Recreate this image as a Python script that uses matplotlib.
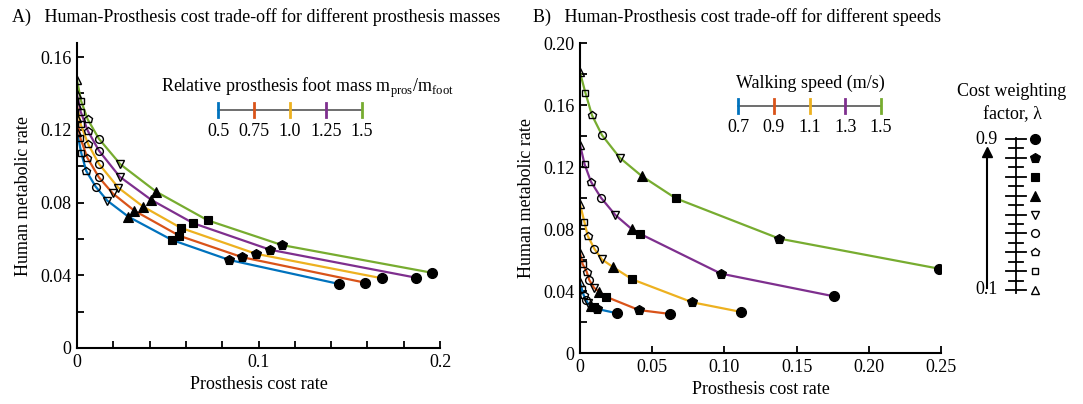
import matplotlib.pyplot as plt
import matplotlib.lines as mlines
import numpy as np
from matplotlib.ticker import MultipleLocator

plt.rcParams['font.family'] = 'Liberation Serif'
plt.rcParams['mathtext.fontset'] = 'custom'
plt.rcParams['mathtext.rm'] = 'Liberation Serif'

# Cost weighting factor lambda, one marker per value
lambdas = [0.1, 0.2, 0.3, 0.4, 0.5, 0.6, 0.7, 0.8, 0.9]
markers = ['^', 's', 'p', 'o', 'v', '^', 's', 'p', 'o']
filled = [False, False, False, False, False, True, True, True, True]

colors = ['#0072BD', '#D95319', '#EDB120', '#7E2F8E', '#77AC30']

# Panel A: prosthesis masses
masses = ['0.5', '0.75', '1.0', '1.25', '1.5']
a_x = [
    [0, 0.0024, 0.0051, 0.0103, 0.0167, 0.0283, 0.0523, 0.0839, 0.1444],
    [0, 0.0018, 0.0057, 0.0121, 0.0197, 0.0316, 0.0564, 0.0911, 0.1588],
    [0, 0.0020, 0.0062, 0.0121, 0.0228, 0.0365, 0.0571, 0.0986, 0.1682],
    [0, 0.0020, 0.0059, 0.0121, 0.0235, 0.0410, 0.0641, 0.1065, 0.1866],
    [0, 0.0022, 0.0059, 0.0121, 0.0239, 0.0437, 0.0720, 0.1129, 0.1954],
]
a_y = [
    [0.1190, 0.1070, 0.0973, 0.0887, 0.0810, 0.0722, 0.0594, 0.0484, 0.0352],
    [0.1263, 0.1156, 0.1046, 0.0938, 0.0850, 0.0755, 0.0617, 0.0499, 0.0359],
    [0.1336, 0.1230, 0.1120, 0.1012, 0.0881, 0.0777, 0.0661, 0.0518, 0.0383],
    [0.1395, 0.1300, 0.1195, 0.1085, 0.0942, 0.0814, 0.0686, 0.0540, 0.0387],
    [0.1473, 0.1360, 0.1257, 0.1150, 0.1010, 0.0859, 0.0702, 0.0566, 0.0414],
]

# Panel B: walking speeds
speeds = ['0.7', '0.9', '1.1', '1.3', '1.5']
b_x = [
    [0, 0.0012, 0.0025, 0.0040, 0.0055, 0.0075, 0.0095, 0.0115, 0.0258],
    [0, 0.0018, 0.0046, 0.0064, 0.0097, 0.0133, 0.0180, 0.0409, 0.0623],
    [0, 0.0030, 0.0053, 0.0099, 0.0152, 0.0231, 0.0362, 0.0778, 0.1115],
    [0, 0.0032, 0.0076, 0.0145, 0.0245, 0.0360, 0.0418, 0.0976, 0.1757],
    [0, 0.0037, 0.0083, 0.0152, 0.0275, 0.0427, 0.0663, 0.1380, 0.2486],
]
b_y = [
    [0.0456, 0.0415, 0.0375, 0.0345, 0.0320, 0.0305, 0.0295, 0.0285, 0.0256],
    [0.0647, 0.0574, 0.0525, 0.0471, 0.0421, 0.0395, 0.0363, 0.0277, 0.0252],
    [0.0961, 0.0847, 0.0757, 0.0673, 0.0604, 0.0553, 0.0475, 0.0327, 0.0265],
    [0.1344, 0.1217, 0.1105, 0.1002, 0.0890, 0.0798, 0.0768, 0.0512, 0.0366],
    [0.1810, 0.1680, 0.1534, 0.1406, 0.1260, 0.1142, 0.0998, 0.0738, 0.0544],
]

# marker sizes (pt) so that shapes look alike in size
open_ms = {'^': 5.5, 's': 4.5, 'p': 6.2, 'o': 5.6, 'v': 5.5}
fill_ms = {'^': 7.0, 's': 5.6, 'p': 7.6, 'o': 7.2}

W, H = 1083, 404
fig = plt.figure(figsize=(W / 100, H / 100), dpi=100)


def fx(px):
    return px / W


def fy(py):
    return 1 - py / H


def mstyle(i):
    m = markers[i]
    if filled[i]:
        return dict(marker=m, ms=fill_ms[m], mec='k', mew=0.8, mfc='k')
    return dict(marker=m, ms=open_ms[m], mec='k', mew=1.0, mfc='none')


def draw_curves(ax, xs, ys):
    for c, x, y in zip(colors, xs, ys):
        ax.plot(x, y, color=c, lw=1.6, zorder=2)
        for i in range(len(x)):
            ax.plot(x[i], y[i], zorder=3, **mstyle(i))


def style_axes(ax):
    for s in ['top', 'right']:
        ax.spines[s].set_visible(False)
    for s in ['left', 'bottom']:
        ax.spines[s].set_linewidth(1.5)
    ax.tick_params(which='both', direction='in', width=1.3, labelsize=13, pad=4)
    ax.tick_params(which='major', length=5)
    ax.tick_params(which='minor', length=5)
    ax.set_xlabel('Prosthesis cost rate', fontsize=13, labelpad=4)
    ax.set_ylabel('Human metabolic rate', fontsize=13, labelpad=6)


# ---- Panel A
axA = fig.add_axes([fx(77), fy(348), fx(440) - fx(77), fy(43) - fy(348)])
draw_curves(axA, a_x, a_y)
axA.set_xlim(0, 0.2)
axA.set_ylim(0, 0.1677)
axA.set_xticks([0, 0.1, 0.2])
axA.set_xticklabels(['0', '0.1', '0.2'])
axA.xaxis.set_minor_locator(MultipleLocator(0.02))
axA.set_yticks([0, 0.04, 0.08, 0.12, 0.16])
axA.set_yticklabels(['0', '0.04', '0.08', '0.12', '0.16'])
axA.yaxis.set_minor_locator(MultipleLocator(0.02))
style_axes(axA)

# ---- Panel B
axB = fig.add_axes([fx(580), fy(353), fx(941) - fx(580), fy(43) - fy(353)])
draw_curves(axB, b_x, b_y)
axB.set_xlim(0, 0.25)
axB.set_ylim(0, 0.2)
axB.set_xticks([0, 0.05, 0.10, 0.15, 0.20, 0.25])
axB.set_xticklabels(['0', '0.05', '0.10', '0.15', '0.20', '0.25'])
axB.set_yticks([0, 0.04, 0.08, 0.12, 0.16, 0.20])
axB.set_yticklabels(['0', '0.04', '0.08', '0.12', '0.16', '0.20'])
axB.yaxis.set_minor_locator(MultipleLocator(0.02))
style_axes(axB)

# ---- Titles
fig.text(fx(12), fy(17), 'A)   Human-Prosthesis cost trade-off for different prosthesis masses',
         fontsize=13, va='center', ha='left')
fig.text(fx(533), fy(17), 'B)   Human-Prosthesis cost trade-off for different speeds',
         fontsize=13, va='center', ha='left')


# ---- Colour scale legends
def colour_scale(x0, x1, yline, title, title_x, title_y, labels):
    fig.add_artist(mlines.Line2D([fx(x0), fx(x1)], [fy(yline), fy(yline)],
                                 color='#555555', lw=1.2))
    xs = np.linspace(x0, x1, len(labels))
    for px, c, lab in zip(xs, colors, labels):
        fig.add_artist(mlines.Line2D([fx(px), fx(px)], [fy(yline - 7), fy(yline + 7)],
                                     color=c, lw=2))
        fig.text(fx(px), fy(yline + 21), lab, fontsize=13, ha='center', va='center')
    fig.text(fx(title_x), fy(title_y), title, fontsize=13, ha='center', va='center')


colour_scale(218, 362, 110,
             r'Relative prosthesis foot mass m$_{\mathrm{pros}}$/m$_{\mathrm{foot}}$', 307, 88, masses)
colour_scale(738, 881, 106, 'Walking speed (m/s)', 810, 83, speeds)

# ---- Cost weighting factor legend
fig.text(fx(1012), fy(92), 'Cost weighting', fontsize=13, ha='center', va='center')
fig.text(fx(1012), fy(115), 'factor, λ', fontsize=13, ha='center', va='center')
lam_top, lam_bot = 139, 290
bar_x = 1016


def lam_y(v):
    return lam_bot - (v - lambdas[0]) / (lambdas[-1] - lambdas[0]) * (lam_bot - lam_top)


fig.add_artist(mlines.Line2D([fx(bar_x), fx(bar_x)], [fy(lam_bot + 3), fy(lam_top - 1)],
                             color='k', lw=1.3))
for i, v in enumerate(lambdas):
    yy = lam_y(v)
    fig.add_artist(mlines.Line2D([fx(bar_x - 10), fx(bar_x + 10)], [fy(yy), fy(yy)],
                                 color='k', lw=1.3))
    if i < len(lambdas) - 1:
        ym = lam_y(v + 0.05)
        fig.add_artist(mlines.Line2D([fx(bar_x - 7), fx(bar_x + 7)], [fy(ym), fy(ym)],
                                     color='k', lw=1.3))
    fig.add_artist(mlines.Line2D([fx(1035)], [fy(yy)], ls='none', **mstyle(i)))
fig.text(fx(998), fy(lam_top), '0.9', fontsize=13, ha='right', va='center')
fig.text(fx(998), fy(lam_bot), '0.1', fontsize=13, ha='right', va='center')
fig.add_artist(mlines.Line2D([fx(987), fx(987)], [fy(288), fy(156)], color='k', lw=1.5))
fig.add_artist(mlines.Line2D([fx(987)], [fy(152)], marker='^', ms=7, color='k', ls='none'))

fig.savefig('out.png', dpi=100)
